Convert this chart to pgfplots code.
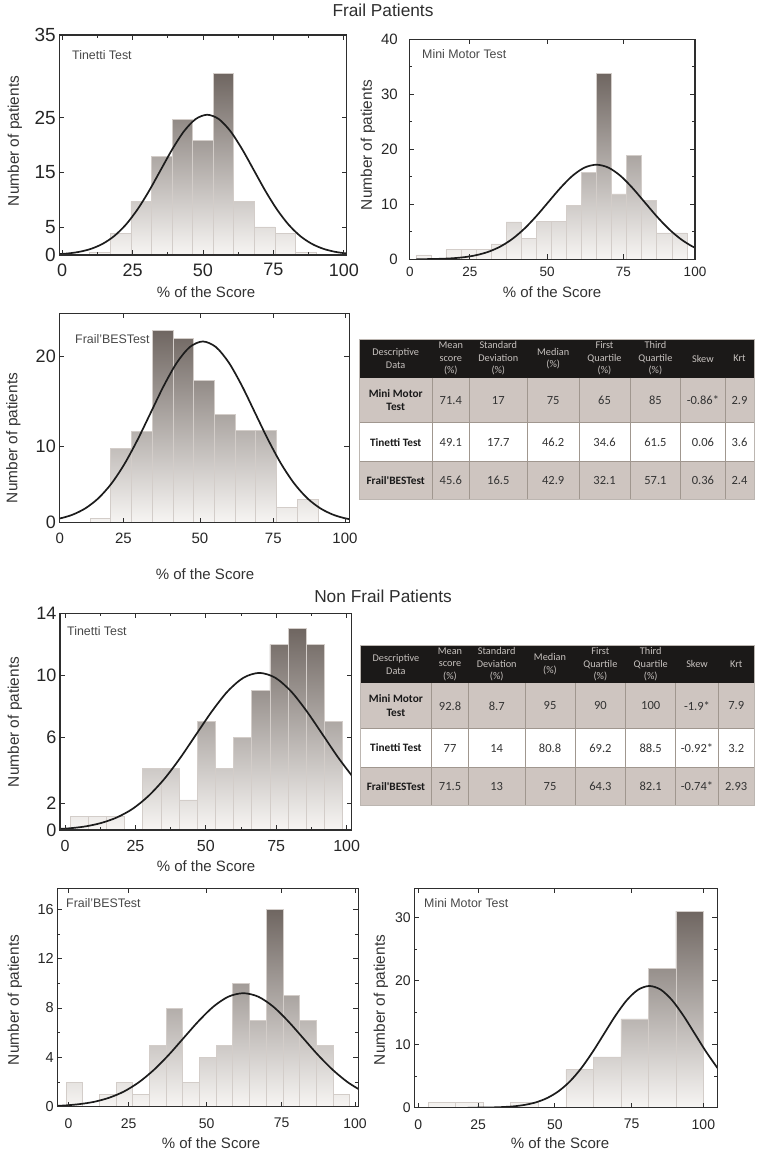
\documentclass[border=0pt]{standalone}
\usepackage{fontspec}
\setmainfont{Liberation Sans}
\newfontfamily\tabfont{Carlito}
\usepackage{pgfplots}
\usepackage{pgfplotstable}
\pgfplotsset{compat=1.18}

\definecolor{frame}{HTML}{2E2E2E}
\definecolor{bartop}{HTML}{6F6661}
\definecolor{barbot}{HTML}{F7F5F3}
\definecolor{barline}{HTML}{D3CDC9}
\definecolor{curve}{HTML}{1C1C1C}
\definecolor{ticktext}{HTML}{262626}
\definecolor{labtext}{HTML}{333333}
\definecolor{hdr}{HTML}{1B1918}
\definecolor{hdrtext}{HTML}{C6C1BE}
\definecolor{rowg}{HTML}{CEC5C0}
\definecolor{cellline}{HTML}{A0978F}

% frail: bins (left edge, height) and fitted normal curve
\pgfplotstableread{
x y
9.8 0.5
17.1 3.9
24.4 9.75
31.7 17.9
39.0 24.7
46.3 20.9
53.6 33.0
60.9 9.75
68.2 5.1
75.5 3.9
82.8 0.5
90.1 0.5
}\binsFT
\pgfplotstableread{
x y
-2.125 0.13
2.0 0.28
6.125 0.58
10.25 1.12
14.375 2.03
18.5 3.45
22.625 5.52
26.75 8.28
30.875 11.67
35.0 15.47
39.125 19.25
43.25 22.50
47.375 24.71
51.5 25.5
55.625 24.71
59.75 22.50
63.875 19.25
68.0 15.47
72.125 11.67
76.25 8.28
80.375 5.52
84.5 3.45
88.625 2.03
92.75 1.12
96.875 0.58
101.0 0.28
105.125 0.13
}\curveFT

\pgfplotstableread{
x y
2.30 0.8
7.57 0
12.84 1.8
18.11 1.8
23.38 1.8
28.65 2.8
33.92 6.8
39.19 3.8
44.46 6.9
49.73 6.9
55.00 9.8
60.27 15.8
65.54 33.8
70.81 11.9
76.08 18.9
81.35 10.7
86.62 4.8
91.89 4.8
97.16 4.8
}\binsFM
\pgfplotstableread{
x y
2.5 0.01
6.7 0.04
10.9 0.09
15.1 0.19
19.3 0.39
23.5 0.76
27.7 1.37
31.9 2.33
36.1 3.72
40.3 5.58
44.5 7.87
48.7 10.43
52.9 12.98
57.1 15.18
61.3 16.67
65.5 17.2
69.7 16.67
73.9 15.18
78.1 12.98
82.3 10.43
86.5 7.87
90.7 5.58
94.9 3.72
99.1 2.33
103.3 1.37
}\curveFM

\pgfplotstableread{
x y
10.6 0.6
17.74 9.8
24.88 12.0
32.02 25.3
39.16 24.2
46.3 18.7
53.44 14.2
60.58 12.1
67.72 12.1
74.86 2.0
82.0 3.1
89.14 3.1
}\binsFB
\pgfplotstableread{
x y
-4.5 0.26
0 0.54
4.5 1.04
9 1.89
13.5 3.22
18 5.15
22.5 7.73
27 10.90
31.5 14.43
36 17.96
40.5 21.0
45 23.07
49.5 23.8
54 23.07
58.5 21.0
63 17.96
67.5 14.43
72 10.90
76.5 7.73
81 5.15
85.5 3.22
90 1.89
94.5 1.04
99 0.54
103.5 0.26
}\curveFB

% non frail
\pgfplotstableread{
x y
1.80 0.9
8.25 0.9
14.70 0.9
21.15 0
27.60 4
34.05 4
40.50 1.95
46.95 7
53.40 4
59.85 6
66.30 9
72.75 12
79.20 13
85.65 12
92.10 7
98.55 7
}\binsNT
\pgfplotstableread{
x y
-4.125 0.05
1.5 0.11
7.125 0.23
12.75 0.45
18.375 0.81
24.0 1.37
29.625 2.20
35.25 3.30
40.875 4.65
46.5 6.16
52.125 7.66
57.75 8.96
63.375 9.84
69.0 10.15
74.625 9.84
80.25 8.96
85.875 7.66
91.5 6.16
97.125 4.65
102.75 3.30
}\curveNT

\pgfplotstableread{
x y
2.90 2
8.44 0
13.98 1
19.52 2
25.06 1
30.60 5
36.14 8
41.68 2
47.22 4
52.76 5
58.30 10
63.84 7
69.38 16
74.92 9
80.46 7
86.00 5
91.54 1
97.08 1
}\binsNB
\pgfplotstableread{
x y
-2.55 0.05
2.4 0.10
7.35 0.21
12.3 0.40
17.25 0.73
22.2 1.24
27.15 1.99
32.1 2.99
37.05 4.21
42.0 5.58
46.95 6.94
51.9 8.12
56.85 8.92
61.8 9.2
66.75 8.92
71.7 8.12
76.65 6.94
81.6 5.58
86.55 4.21
91.5 2.99
96.45 1.99
101.4 1.24
}\curveNB

\pgfplotstableread{
x y
4.60 0.8
13.68 0.8
22.76 0
31.84 0.8
40.92 0
50.00 6
59.08 8
68.16 14
77.24 22
86.32 31
95.40 31
}\binsNM
\pgfplotstableread{
x y
17.6 0.01
21.35 0.02
25.1 0.04
28.85 0.10
32.6 0.21
36.35 0.44
40.1 0.84
43.85 1.53
47.6 2.60
51.35 4.15
55.1 6.23
58.85 8.79
62.6 11.64
66.35 14.49
70.1 16.94
73.85 18.61
77.6 19.2
81.35 18.61
85.1 16.94
88.85 14.49
92.6 11.64
96.35 8.79
100.1 6.23
}\curveNM

\pgfplotsset{
  hist/.style={
    scale only axis, axis on top, anchor=south west,
    axis line style={draw=frame, line width=1.5pt},
    tick style={draw=frame, line width=0.8pt},
    tick align=inside, major tick length=5pt, minor tick length=3pt,
    minor x tick num=1, minor y tick num=1,
    ymin=0,
    xticklabels={0,25,50,75,100},
    /pgf/number format/assume math mode=true,
    tick label style={text=ticktext},
  },
  bars/.style={const plot, draw=none, top color=bartop, bottom color=barbot},
  edges/.style={ybar interval, draw=barline, fill=none, line width=0.6pt},
  fit/.style={draw=curve, line width=1.7pt, smooth},
}

\tikzset{
  ylab/.style={rotate=90, text=labtext, font=\fontsize{15.4}{16}\selectfont},
  xlab/.style={text=labtext, font=\fontsize{15}{16}\selectfont},
  plab/.style={anchor=west, inner sep=0pt, text=black!72, font=\fontsize{12.4}{13}\selectfont},
  ttl/.style={text=black!82, font=\fontsize{17.3}{18}\selectfont},
  hdrtxt/.style={align=center, text=hdrtext, font=\tabfont\fontsize{10.3}{12.6}\selectfont},
  rowlab/.style={align=center, text=black!90, font=\tabfont\bfseries\fontsize{11.3}{13.6}\selectfont},
  val/.style={text=black!80, font=\tabfont\fontsize{12.5}{14}\selectfont},
}

\begin{document}
\begin{tikzpicture}
\path[use as bounding box] (0pt,0pt) rectangle (764pt,-1153pt);

\node[ttl] at (383pt,-10pt) {Frail Patients};
\node[ttl] at (383pt,-596pt) {Non Frail Patients};

% ---- frail: Tinetti
\begin{axis}[hist, at={(59.3pt,-255pt)}, width=287.4pt, height=220pt,
  xmin=-1, xmax=101, xtick={0,25,50,75,100},
  ymax=40, ytick={0,5,15,25,40}, yticklabels={0,5,15,25,35},
  x tick label style={font=\fontsize{18}{18}\selectfont, yshift=-5pt},
  y tick label style={font=\fontsize{19}{19}\selectfont}]
\addplot[bars] table {\binsFT} \closedcycle;
\addplot[edges] table {\binsFT};
\addplot[fit] table {\curveFT};
\end{axis}

% ---- frail: Mini Motor
\begin{axis}[hist, at={(409.3pt,-259.3pt)}, width=285.7pt, height=220pt,
  xmin=0, xmax=100, xtick={0.2,21.2,48.2,74.9,100},
  ymax=40, ytick={0,10,20,30,40},
  x tick label style={font=\fontsize{13.5}{14}\selectfont, yshift=-4pt},
  y tick label style={font=\fontsize{15}{15}\selectfont, xshift=-8pt}]
\addplot[bars] table {\binsFM} \closedcycle;
\addplot[edges] table {\binsFM};
\addplot[fit] table {\curveFM};
\end{axis}

% ---- frail: Frail'BESTest
\begin{axis}[hist, at={(59.3pt,-522.7pt)}, width=290pt, height=209.4pt,
  xmin=0, xmax=100, xtick={0.2,22.1,48.5,73.8,98.5},
  ymax=27.5, ytick={0,10,21.9}, yticklabels={0,10,20},
  x tick label style={font=\fontsize{15}{15}\selectfont, yshift=-7pt},
  y tick label style={font=\fontsize{18}{18}\selectfont}]
\addplot[bars] table {\binsFB} \closedcycle;
\addplot[edges] table {\binsFB};
\addplot[fit] table {\curveFB};
\end{axis}

% ---- non frail: Tinetti
\begin{axis}[hist, at={(60pt,-830pt)}, width=291.7pt, height=216.7pt,
  xmin=-1.8, xmax=101.8, xtick={0,25,50,75,100},
  ymax=14, ytick={0,1.75,6,10,14}, yticklabels={0,2,6,10,14},
  x tick label style={font=\fontsize{16}{16}\selectfont, yshift=-7pt},
  y tick label style={font=\fontsize{18}{18}\selectfont}]
\addplot[bars] table {\binsNT} \closedcycle;
\addplot[edges] table {\binsNT};
\addplot[fit] table {\curveNT};
\end{axis}

% ---- non frail: Frail'BESTest
\begin{axis}[hist, at={(57.3pt,-1106.7pt)}, width=301pt, height=218.4pt,
  xmin=0, xmax=100, xtick={3.7,23.7,49.6,74.5,98.9},
  ymax=17.7, ytick={0,4,8,12,16},
  x tick label style={font=\fontsize{14}{14}\selectfont, yshift=-8pt},
  y tick label style={font=\fontsize{14.5}{15}\selectfont}]
\addplot[bars] table {\binsNB} \closedcycle;
\addplot[edges] table {\binsNB};
\addplot[fit] table {\curveNB};
\end{axis}

% ---- non frail: Mini Motor
\begin{axis}[hist, at={(414.3pt,-1107.7pt)}, width=303pt, height=219.4pt,
  xmin=0, xmax=100, xtick={1.3,21.1,46.4,71.7,95.4},
  ymax=34.6, ytick={0,10,20,30},
  x tick label style={font=\fontsize{14}{14}\selectfont, yshift=-8pt},
  y tick label style={font=\fontsize{14}{14}\selectfont}]
\addplot[bars] table {\binsNM} \closedcycle;
\addplot[edges] table {\binsNM};
\addplot[fit] table {\curveNM};
\end{axis}

% panel names
\node[plab] at (72pt,-55pt) {Tinetti Test};
\node[plab] at (422pt,-54pt) {Mini Motor Test};
\node[plab] at (75pt,-339pt) {Frail'BESTest};
\node[plab] at (67pt,-631pt) {Tinetti Test};
\node[plab] at (66pt,-903pt) {Frail'BESTest};
\node[plab] at (424pt,-903pt) {Mini Motor Test};

% axis titles
\node[ylab] at (15pt,-141pt) {Number of patients};
\node[ylab] at (368pt,-145pt) {Number of patients};
\node[ylab] at (13.5pt,-438pt) {Number of patients};
\node[ylab] at (15pt,-722pt) {Number of patients};
\node[ylab] at (15pt,-1000pt) {Number of patients};
\node[ylab] at (381pt,-1000pt) {Number of patients};
\node[xlab] at (206pt,-292pt) {\% of the Score};
\node[xlab] at (552pt,-292pt) {\% of the Score};
\node[xlab] at (205pt,-574pt) {\% of the Score};
\node[xlab] at (206pt,-866pt) {\% of the Score};
\node[xlab] at (211pt,-1143pt) {\% of the Score};
\node[xlab] at (560pt,-1143pt) {\% of the Score};

% ---- table, frail
\fill[hdr] (359pt,-339.3pt) rectangle (754pt,-377.7pt);
\fill[rowg] (359pt,-377.7pt) rectangle (754pt,-422.7pt);
\fill[rowg] (359pt,-461.7pt) rectangle (754pt,-499pt);
\foreach \x in {432.3,469.3,527.3,579,630,680.7,725}
  \draw[cellline, line width=0.8pt] (\x pt,-377.7pt) -- (\x pt,-499pt);
\foreach \y in {422.7,461.7}
  \draw[cellline, line width=0.8pt] (359pt,-\y pt) -- (754pt,-\y pt);
\draw[cellline!70, line width=0.8pt] (359pt,-339.3pt) rectangle (754pt,-499pt);
\foreach \x/\t in {395.7/{Descriptive\\Data}, 450.8/{Mean\\score\\(\%)}, 498.3/{Standard\\Deviation\\(\%)}, 553.2/{Median\\(\%)}, 604.5/{First\\Quartile\\(\%)}, 655.4/{Third\\Quartile\\(\%)}, 702.9/{Skew}, 739.5/{Krt}}
  \node[hdrtxt] at (\x pt,-358.5pt) {\t};
\node[rowlab] at (395.7pt,-400.2pt) {Mini Motor\\Test};
\node[rowlab] at (395.7pt,-442.2pt) {Tinetti Test};
\node[rowlab] at (395.7pt,-480.3pt) {Frail'BESTest};
\foreach \x/\t in {450.8/71.4, 498.3/17, 553.2/75, 604.5/65, 655.4/85, 702.9/-0.86*, 739.5/2.9}
  \node[val] at (\x pt,-400.2pt) {\t};
\foreach \x/\t in {450.8/49.1, 498.3/17.7, 553.2/46.2, 604.5/34.6, 655.4/61.5, 702.9/0.06, 739.5/3.6}
  \node[val] at (\x pt,-442.2pt) {\t};
\foreach \x/\t in {450.8/45.6, 498.3/16.5, 553.2/42.9, 604.5/32.1, 655.4/57.1, 702.9/0.36, 739.5/2.4}
  \node[val] at (\x pt,-480.3pt) {\t};

% ---- table, non frail
\fill[hdr] (360pt,-645pt) rectangle (754pt,-683.3pt);
\fill[rowg] (360pt,-683.3pt) rectangle (754pt,-728.3pt);
\fill[rowg] (360pt,-767.7pt) rectangle (754pt,-805pt);
\foreach \x in {431.7,468.3,525,575,625.7,675.7,718.3}
  \draw[cellline, line width=0.8pt] (\x pt,-683.3pt) -- (\x pt,-805pt);
\foreach \y in {728.3,767.7}
  \draw[cellline, line width=0.8pt] (360pt,-\y pt) -- (754pt,-\y pt);
\draw[cellline!70, line width=0.8pt] (360pt,-645pt) rectangle (754pt,-805pt);
\foreach \x/\t in {395.9/{Descriptive\\Data}, 450/{Mean\\score\\(\%)}, 496.7/{Standard\\Deviation\\(\%)}, 550/{Median\\(\%)}, 600.4/{First\\Quartile\\(\%)}, 650.7/{Third\\Quartile\\(\%)}, 697/{Skew}, 736.2/{Krt}}
  \node[hdrtxt] at (\x pt,-664.2pt) {\t};
\node[rowlab] at (395.9pt,-705.8pt) {Mini Motor\\Test};
\node[rowlab] at (395.9pt,-748pt) {Tinetti Test};
\node[rowlab] at (395.9pt,-786.3pt) {Frail'BESTest};
\foreach \x/\t in {450/92.8, 496.7/8.7, 550/95, 600.4/90, 650.7/100, 697/-1.9*, 736.2/7.9}
  \node[val] at (\x pt,-705.8pt) {\t};
\foreach \x/\t in {450/77, 496.7/14, 550/80.8, 600.4/69.2, 650.7/88.5, 697/-0.92*, 736.2/3.2}
  \node[val] at (\x pt,-748pt) {\t};
\foreach \x/\t in {450/71.5, 496.7/13, 550/75, 600.4/64.3, 650.7/82.1, 697/-0.74*, 736.2/2.93}
  \node[val] at (\x pt,-786.3pt) {\t};
\end{tikzpicture}
\end{document}
